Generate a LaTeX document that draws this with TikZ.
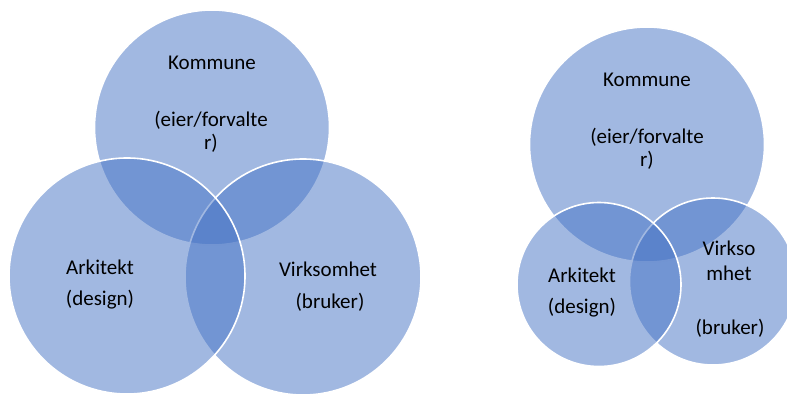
\documentclass[tikz,border=0pt]{standalone}
\usepackage{fontspec}
\setmainfont{Carlito}
\definecolor{vennblue}{HTML}{4472C4}
\tikzset{
  venn/.style={circle,fill=vennblue,fill opacity=0.5,draw=white,line width=1.6pt,inner sep=0pt},
  venntext/.style={font=\fontsize{21}{24}\selectfont,text=black,inner sep=0pt}
}
\begin{document}
\begin{tikzpicture}[x=1pt,y=-1pt]
\useasboundingbox (0,0) rectangle (787,396);
%left diagram
\node[venn,minimum size=235pt](kommuneA) at(212,127.5){};
\node[venn,minimum size=236pt](virksomhetA) at(303,277){};
\node[venn,minimum size=236pt](arkitektA) at(127,276){};
%right diagram
\node[venn,minimum size=235pt](kommuneB) at(647,144.5){};
\node[venn,minimum size=167pt](virksomhetB) at(713,281.5){};
\node[venn,minimum size=164pt](arkitektB) at(599,284.5){};
%labels left
\node[venntext](komA) at(212,63){Kommune};
\node[venntext](eierA) at(211,120){(eier/forvalte};
\node[venntext](rA) at(211,143){r)};
\node[venntext](arkA) at(100,267){Arkitekt};
\node[venntext](desA) at(100,300){(design)};
\node[venntext](virA) at(328,269){Virksomhet};
\node[venntext](bruA) at(330,302){(bruker)};
%labels right
\node[venntext](komB) at(647,80){Kommune};
\node[venntext](eierB) at(647,137){(eier/forvalte};
\node[venntext](rB) at(647,160){r)};
\node[venntext](arkB) at(582,275){Arkitekt};
\node[venntext](desB) at(582,308){(design)};
\node[venntext](virB) at(729,248){Virkso};
\node[venntext](mhB) at(729,273){mhet};
\node[venntext](bruB) at(730,328){(bruker)};
\end{tikzpicture}
\end{document}
